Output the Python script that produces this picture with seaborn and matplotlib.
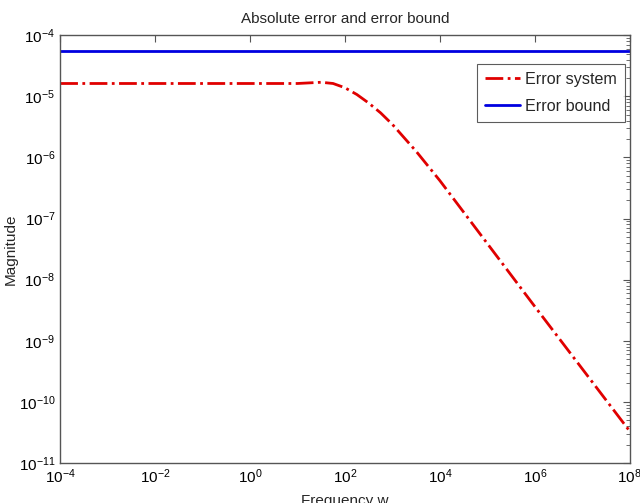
import numpy as np
import pandas as pd
import seaborn as sns
import matplotlib
matplotlib.use('Agg')
import matplotlib.pyplot as plt
from matplotlib.ticker import LogLocator, NullFormatter, NullLocator, FixedLocator

# values (log10 of frequency and magnitude)
log_freq = [-4, -3, -2, -1, 0, 1, 1.25, 1.5, 1.75, 2.0, 2.25, 2.5, 2.75, 3.0,
            3.5, 4.0, 5.0, 6.0, 7.0, 8.0]
log_err = [-4.79, -4.79, -4.79, -4.79, -4.79, -4.79, -4.78, -4.77, -4.79, -4.86,
           -4.97, -5.11, -5.27, -5.46, -5.90, -6.38, -7.41, -8.44, -9.46, -10.48]
bound_freq = [1e-4, 1e8]
bound_val = [5.5e-5, 5.5e-5]

df_err = pd.DataFrame({'w': np.power(10.0, log_freq), 'mag': np.power(10.0, log_err)})
df_bnd = pd.DataFrame({'w': bound_freq, 'mag': bound_val})

sns.set_style('white')
plt.rcParams['font.family'] = ['Liberation Sans', 'DejaVu Sans']

fig = plt.figure(figsize=(6.4, 5.03), dpi=100)
ax = fig.add_axes([0.094, 0.0795, 0.890, 0.8505])

sns.lineplot(data=df_err, x='w', y='mag', ax=ax, color='#e00000', linestyle='-.',
             linewidth=2, label='Error system', sort=False)
sns.lineplot(data=df_bnd, x='w', y='mag', ax=ax, color='#0000e0', linestyle='-',
             linewidth=2, label='Error bound', sort=False)

ax.set_xscale('log')
ax.set_yscale('log')
ax.set_xlim(1e-4, 1e8)
ax.set_ylim(1e-11, 1e-4)
ax.xaxis.set_major_locator(FixedLocator([10.0 ** k for k in range(-4, 9, 2)]))
ax.xaxis.set_minor_locator(NullLocator())
ax.xaxis.set_minor_formatter(NullFormatter())
ax.yaxis.set_major_locator(FixedLocator([10.0 ** k for k in range(-11, -3)]))
ax.yaxis.set_minor_locator(LogLocator(base=10, subs=np.arange(2, 10), numticks=20))
ax.yaxis.set_minor_formatter(NullFormatter())

for s in ax.spines.values():
    s.set_color('#555555')
    s.set_linewidth(1.0)
ax.tick_params(which='both', direction='in', top=True, right=True, colors='#555555',
               labelcolor='black', labelsize=11)
ax.tick_params(which='major', length=5)
ax.tick_params(which='minor', length=3)

ax.set_title('Absolute error and error bound', fontsize=11, pad=9)
ax.set_xlabel('Frequency w', fontsize=11)
ax.set_ylabel('Magnitude', fontsize=11)
ax.xaxis.set_label_coords(0.5, -0.072)
ax.yaxis.set_label_coords(-0.074, 0.5)

leg = ax.legend(loc='upper right', bbox_to_anchor=(0.992, 0.933), fontsize=11.6,
                frameon=True, fancybox=False, handlelength=2.2, borderpad=0.5,
                labelspacing=0.75, handletextpad=0.3, borderaxespad=0.0)
leg.get_frame().set_edgecolor('#333333')
leg.get_frame().set_linewidth(0.8)

fig.savefig('out.png', dpi=100)
